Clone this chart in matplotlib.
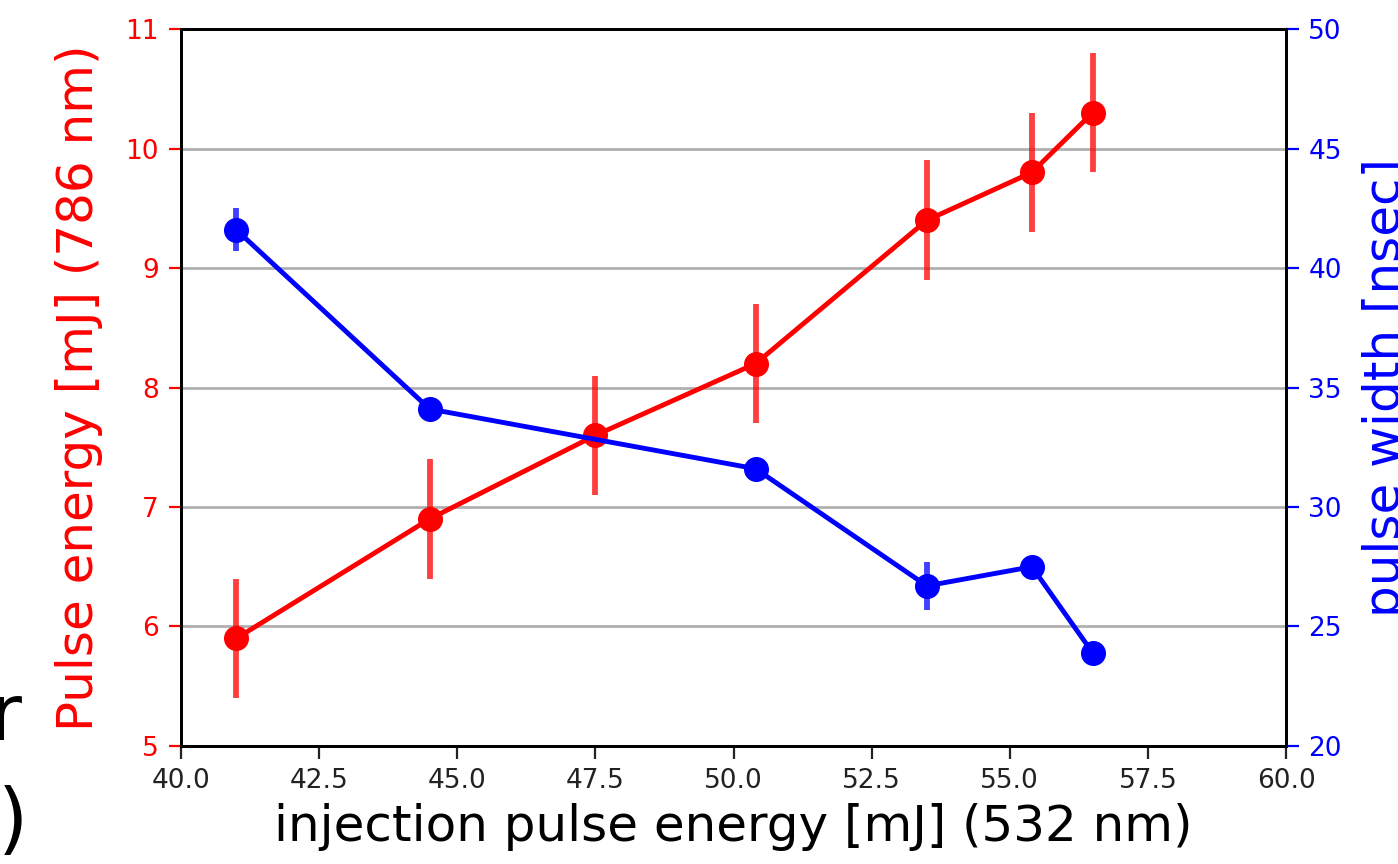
import matplotlib
matplotlib.use('Agg')
import matplotlib.pyplot as plt

# injection energy (532 nm) and the two measured quantities
inj_red = [41.0, 44.5, 47.5, 50.4, 53.5, 55.4, 56.5]
energy = [5.9, 6.9, 7.6, 8.2, 9.4, 9.8, 10.3]
energy_err = [0.5, 0.5, 0.5, 0.5, 0.5, 0.5, 0.5]

inj_blue = [41.0, 44.5, 50.4, 53.5, 55.4, 56.5]
width = [41.6, 34.1, 31.6, 26.7, 27.5, 23.9]
width_err = [0.9, 0.3, 0.3, 1.0, 0.3, 0.3]

fig = plt.figure(figsize=(13.98, 8.64), dpi=100)
ax1 = fig.add_axes([0.1295, 0.1366, 0.7904, 0.8298])
ax2 = ax1.twinx()

ax1.plot(inj_red, energy, '-', color='red', lw=3.5)
ax1.errorbar(inj_red, energy, yerr=energy_err, fmt='none', ecolor='red', elinewidth=4.2, alpha=0.75)
ax1.plot(inj_red, energy, 'o', color='red', ms=17)

ax2.plot(inj_blue, width, '-', color='blue', lw=3.5)
ax2.errorbar(inj_blue, width, yerr=width_err, fmt='none', ecolor='blue', elinewidth=4.2, alpha=0.75)
ax2.plot(inj_blue, width, 'o', color='blue', ms=17)

ax1.set_xlim(40, 60)
ax1.set_ylim(5, 11)
ax2.set_ylim(20, 50)
ax1.set_xticks([40, 42.5, 45, 47.5, 50, 52.5, 55, 57.5, 60])
ax1.set_xticklabels(['40.0', '42.5', '45.0', '47.5', '50.0', '52.5', '55.0', '57.5', '60.0'])
ax1.grid(axis='y', color='#b0b0b0', lw=2)

ax1.set_xlabel('injection pulse energy [mJ] (532 nm)', fontsize=36, labelpad=6)
ax1.set_ylabel('Pulse energy [mJ] (786 nm)', fontsize=36, color='red', labelpad=16)
ax2.set_ylabel('pulse width [nsec]', fontsize=36, color='blue')
ax2.yaxis.set_label_coords(1.0688, 0.5)

ax1.tick_params(axis='x', labelsize=19, length=9, width=1.6, pad=7, colors='#222222')
ax1.tick_params(axis='y', labelsize=19, length=9, width=1.6, pad=7, colors='red')
ax2.tick_params(axis='y', labelsize=19, length=9, width=1.6, pad=7, colors='blue')
for ax in (ax1, ax2):
    for s in ax.spines.values():
        s.set_linewidth(2)

# fragments of neighbouring text cut by the crop
fig.text(0.016, 1 - 740 / 864, 'r', ha='right', va='baseline', fontsize=56)
fig.text(0.020, 1 - 845 / 864, ')', ha='right', va='baseline', fontsize=56)

fig.savefig('out.png', dpi=100)
